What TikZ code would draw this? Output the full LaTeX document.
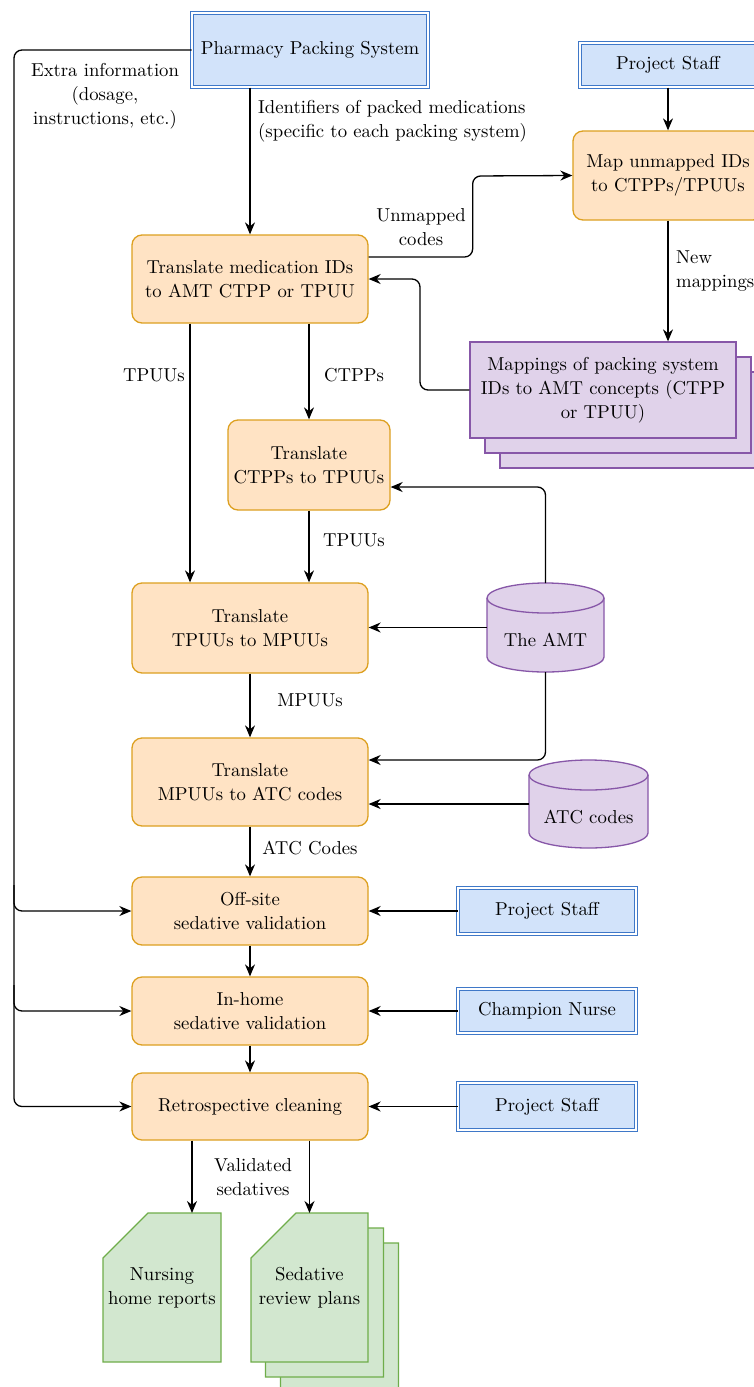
\documentclass[tikz,border=0pt]{standalone}
\usepackage{fontspec}
\setmainfont{lmroman10-regular}[Extension=.otf]
\usetikzlibrary{arrows.meta,backgrounds}
\definecolor{bfill}{HTML}{D2E3FA}
\definecolor{bdraw}{HTML}{3F78C8}
\definecolor{ofill}{HTML}{FFE3C4}
\definecolor{odraw}{HTML}{DDA020}
\definecolor{pfill}{HTML}{E0D2EA}
\definecolor{pdraw}{HTML}{8757A8}
\definecolor{gfill}{HTML}{D2E7CF}
\definecolor{gdraw}{HTML}{6FAD4A}
\newcommand\cylpath[3]{%
  \filldraw[cylst] ([yshift=-#3pt]#1.north west) -- ([yshift=#3pt]#1.south west)
    arc[start angle=180,end angle=360,x radius=#2pt,y radius=#3pt]
    -- ([yshift=-#3pt]#1.north east)
    arc[start angle=0,end angle=180,x radius=#2pt,y radius=#3pt] -- cycle;
  \draw[cylst] ([yshift=-#3pt]#1.north west) arc[start angle=180,end angle=360,x radius=#2pt,y radius=#3pt];}
\newcommand\docpath[1]{%
  \filldraw[docst] (#1.south west) -- ([yshift=-45pt]#1.north west) -- ([xshift=45pt]#1.north west)
    -- (#1.north east) -- (#1.south east) -- cycle;}
\begin{document}
\begin{tikzpicture}[x=1pt,y=-1pt,
  txt/.style={font=\fontsize{18.7}{24}\selectfont, align=center, inner sep=0pt},
  proc/.style={txt, rectangle, rounded corners=10pt, fill=ofill, draw=odraw, line width=1.3pt, minimum width=236pt},
  actor/.style={txt, rectangle, fill=bfill, draw=bdraw, double=white, double distance=1.8pt, line width=1pt},
  stackbox/.style={txt, rectangle, fill=pfill, draw=pdraw, line width=1.3pt, minimum width=266pt, minimum height=96pt},
  cylbox/.style={rectangle, outer sep=0pt, inner sep=0pt},
  cylst/.style={fill=pfill, draw=pdraw, line width=1.3pt},
  docbox/.style={txt, rectangle, outer sep=0pt, minimum width=118pt, minimum height=149pt},
  docst/.style={fill=gfill, draw=gdraw, line width=1.3pt},
  flow/.style={-{Stealth[length=12pt,width=10pt]}, line width=1.3pt, rounded corners=8pt},
  lbl/.style={txt}
]
\useasboundingbox (0,0) rectangle (754,1387);
\begin{scope}[on background layer]
  \fill[white] (0,0) rectangle (754,1387);
\end{scope}

% actors
\node[actor, minimum width=236pt, minimum height=74pt] (pharm) at (310,50) {Pharmacy Packing System};
\node[actor, minimum width=176pt, minimum height=44pt] (ps1) at (668,65) {Project Staff};
\node[actor, minimum width=178pt, minimum height=46pt] (ps2) at (547,911) {Project Staff};
\node[actor, minimum width=178pt, minimum height=44pt] (cn) at (547,1011) {Champion Nurse};
\node[actor, minimum width=178pt, minimum height=47pt] (ps3) at (547,1106.5) {Project Staff};

% processes
\node[proc, minimum width=190pt, minimum height=89pt] (mapids) at (668,175.5) {Map unmapped IDs\\to CTPPs/TPUUs};
\node[proc, minimum height=88pt] (trmed) at (250,279) {Translate medication IDs\\to AMT CTPP or TPUU};
\node[proc, minimum width=162pt, minimum height=90pt] (trctpp) at (309,465) {Translate\\CTPPs to TPUUs};
\node[proc, minimum height=90pt] (trtpuu) at (250,628) {Translate\\TPUUs to MPUUs};
\node[proc, minimum height=88pt] (trmpuu) at (250,782) {Translate\\MPUUs to ATC codes};
\node[proc, minimum height=68pt] (off) at (250,911) {Off-site\\sedative validation};
\node[proc, minimum height=68pt] (inh) at (250,1011) {In-home\\sedative validation};
\node[proc, minimum height=67pt] (retro) at (250,1106.5) {Retrospective cleaning};

% mappings stack
\node[stackbox] (mapB2) at (633,420) {};
\node[stackbox] (mapB1) at (618,405) {};
\node[stackbox] (mapf) at (603,390) {Mappings of packing system\\IDs to AMT concepts (CTPP\\or TPUU)};

% cylinders
\node[cylbox, minimum width=117pt, minimum height=89pt, label={[txt,yshift=-12pt]center:The AMT}] (amt) at (545.5,627.5) {};
\node[cylbox, minimum width=119pt, minimum height=88pt, label={[txt,yshift=-13pt]center:ATC codes}] (atc) at (588.5,804) {};
\begin{scope}[on background layer]
  \cylpath{amt}{58.5}{15}
  \cylpath{atc}{59.5}{15}
\end{scope}

% documents
\node[docbox] (srpB2) at (339.5,1317.5) {};
\node[docbox] (srpB1) at (324.5,1302.5) {};
\node[docbox] (nhr) at (162,1287.5) {Nursing\\home reports};
\node[docbox, minimum width=117pt] (srp) at (309.5,1287.5) {Sedative\\review plans};
\begin{scope}[on background layer]
  \docpath{srpB2}
  \docpath{srpB1}
  \docpath{srp}
  \docpath{nhr}
\end{scope}

% labels
\node[lbl, anchor=west, align=left] (idl) at (258,121.5) {Identifiers of packed medications\\(specific to each packing system)};
\node[lbl] (exl) at (105,96) {Extra information\\(dosage,\\instructions, etc.)};
\node[lbl] (unl) at (421,227) {Unmapped\\codes};
\node[lbl, anchor=west, align=left] (nml) at (676,271) {New\\mappings};
\node[lbl] (tpl1) at (154,375) {TPUUs};
\node[lbl] (ctl) at (354,375) {CTPPs};
\node[lbl] (tpl2) at (354,540) {TPUUs};
\node[lbl] (mpl) at (310,700) {MPUUs};
\node[lbl] (atl) at (310,848) {ATC Codes};
\node[lbl] (vsl) at (253,1177) {Validated\\sedatives};

% connectors
\coordinate (trunk) at (14,50);
\coordinate (b1) at (14,885);
\coordinate (b2) at (14,985);
\draw[flow] (trmed.north |- pharm.south) -- (trmed.north);
\draw[flow] (pharm.west) -- (trunk) -- (trunk |- retro.west) -- (retro.west);
\draw[flow] (b1) -- (b1 |- off.west) -- (off.west);
\draw[flow] (b2) -- (b2 |- inh.west) -- (inh.west);
\draw[flow] (ps1.south) -- (mapids.north);
\draw[flow] (mapids.south) -- (mapids.south |- mapf.north);
\draw[flow] ([yshift=22pt]trmed.east) -- ++(104,0) -- ++(0,-81) -- (mapids.west);
\draw[flow] (mapf.west) -- (420,390) -- (420,279) -- (trmed.east);
\draw[flow] ([xshift=-60pt]trmed.south) -- ([xshift=-60pt]trtpuu.north);
\draw[flow] ([xshift=59pt]trmed.south) -- (trctpp.north);
\draw[flow] (trctpp.south) -- ([xshift=59pt]trtpuu.north);
\draw[flow] (amt.north) |- ([yshift=-22pt]trctpp.east);
\draw[flow] (amt.west) -- (trtpuu.east |- amt.west);
\draw[flow] (amt.south) |- ([yshift=22pt]trmpuu.east);
\draw[flow] (atc.west) -- (trmpuu.east |- atc.west);
\draw[flow] (trtpuu.south) -- (trmpuu.north);
\draw[flow] (trmpuu.south) -- (off.north);
\draw[flow] (off.south) -- (inh.north);
\draw[flow] (inh.south) -- (retro.north);
\draw[flow] (ps2.west) -- (off.east |- ps2.west);
\draw[flow] (cn.west) -- (inh.east |- cn.west);
\draw[flow] (ps3.west) -- (retro.east |- ps3.west);
\coordinate (r1) at ([xshift=-58pt]retro.south);
\draw[flow] (r1) -- (r1 |- nhr.north);
\draw[flow] (srp.north |- retro.south) -- (srp.north);
\end{tikzpicture}
\end{document}
